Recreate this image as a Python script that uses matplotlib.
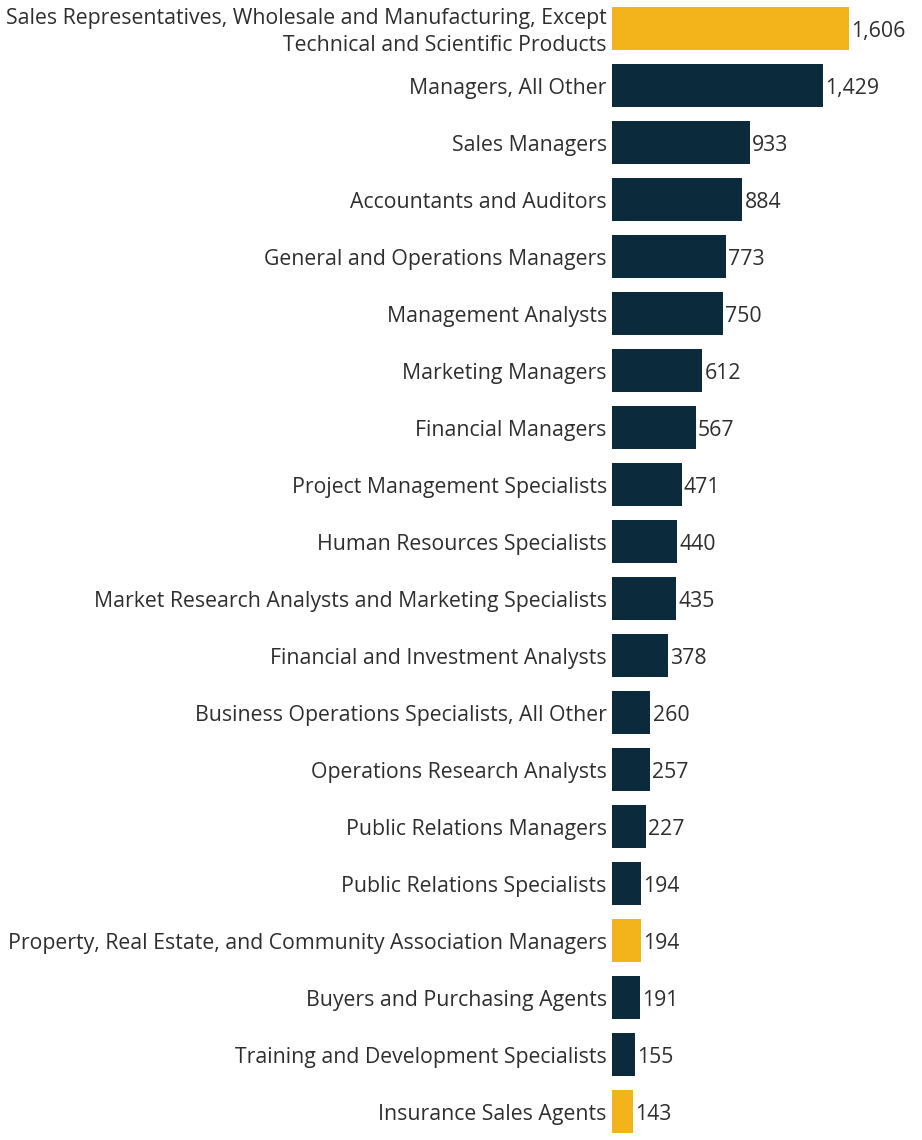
import matplotlib.pyplot as plt

occupations = [
    "Sales Representatives, Wholesale and Manufacturing, Except\nTechnical and Scientific Products",
    "Managers, All Other",
    "Sales Managers",
    "Accountants and Auditors",
    "General and Operations Managers",
    "Management Analysts",
    "Marketing Managers",
    "Financial Managers",
    "Project Management Specialists",
    "Human Resources Specialists",
    "Market Research Analysts and Marketing Specialists",
    "Financial and Investment Analysts",
    "Business Operations Specialists, All Other",
    "Operations Research Analysts",
    "Public Relations Managers",
    "Public Relations Specialists",
    "Property, Real Estate, and Community Association Managers",
    "Buyers and Purchasing Agents",
    "Training and Development Specialists",
    "Insurance Sales Agents",
]
counts = [1606, 1429, 933, 884, 773, 750, 612, 567, 471, 440,
          435, 378, 260, 257, 227, 194, 194, 191, 155, 143]
highlight = [True, False, False, False, False, False, False, False, False, False,
             False, False, False, False, False, False, True, False, False, True]

NAVY = '#0b2a3b'
GOLD = '#f2b31b'
TEXT = '#2e2e2e'

plt.rcParams['font.family'] = ['Open Sans', 'DejaVu Sans']

fig = plt.figure(figsize=(9.22, 11.4), dpi=100)
ax = fig.add_axes([612 / 922, 0, 1 - 612 / 922, 1])

ypos = list(range(len(counts)))
colors = [GOLD if h else NAVY for h in highlight]
ax.barh(ypos, counts, height=0.76, color=colors)

# text sits a touch below the bar centre in the original
dy = 0.06
for y, v, name in zip(ypos, counts, occupations):
    ax.text(v + 15, y + dy, f'{v:,}', va='center', ha='left', fontsize=15.3, color=TEXT)
    ax.text(-35, y + dy, name, va='center', ha='right', fontsize=15.3, color=TEXT,
            multialignment='right', linespacing=1.4)

ax.set_xlim(0, 2100)
ax.set_ylim(len(counts) - 0.5, -0.5)
ax.axis('off')

fig.savefig('out.png', dpi=100)
